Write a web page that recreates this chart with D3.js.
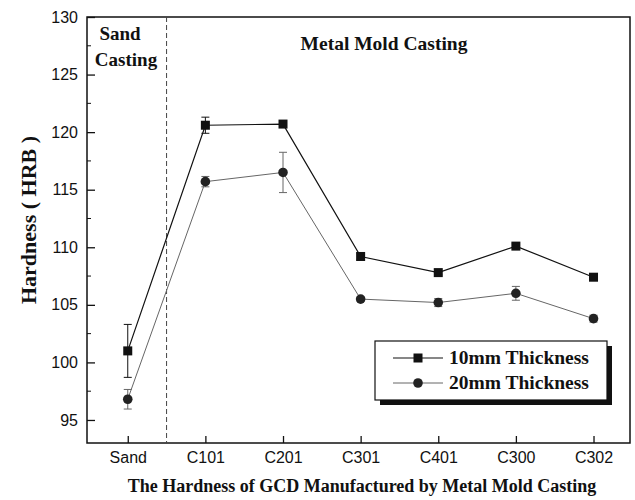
<!DOCTYPE html>
<html>
<head>
<meta charset="utf-8">
<script src="https://cdn.jsdelivr.net/npm/d3@7/dist/d3.min.js"></script>
<style>
  body { margin: 0; background: #fff; }
  .tick text { font-family: "Liberation Sans", Arial, sans-serif; font-size: 16px; fill: #111; }
  .serif { font-family: "Liberation Serif", "Times New Roman", Times, "DejaVu Serif", serif; font-weight: bold; fill: #111; }
</style>
</head>
<body>
<svg id="chart" width="635" height="500"></svg>
<script>
const categories = ['Sand', 'C101', 'C201', 'C301', 'C401', 'C300', 'C302'];
const thick10 = [101.0, 120.6, 120.7, 109.2, 107.8, 110.1, 107.4];
const err10 = [2.3, 0.7, 0.2, 0.3, 0.2, 0.2, 0.2];
const thick20 = [96.8, 115.7, 116.5, 105.5, 105.2, 106.0, 103.8];
const err20 = [0.85, 0.45, 1.75, 0.2, 0.35, 0.6, 0.3];
const yTicks = [95, 100, 105, 110, 115, 120, 125, 130];
const seriesNames = ['10mm Thickness', '20mm Thickness'];

const margin = { top: 17, right: 5, bottom: 57, left: 87 };
const width = 635 - margin.left - margin.right;
const height = 500 - margin.top - margin.bottom;

const svg = d3.select('#chart')
  .append('g')
    .attr('transform', `translate(${margin.left}, ${margin.top})`);

const x = d3.scaleLinear()
    .domain([-0.525, 6.47])
    .range([0, width]);

const y = d3.scaleLinear()
    .domain([93, 130])
    .range([height, 0]);

// frame
svg.append('rect')
  .attr('width', width)
  .attr('height', height)
  .attr('fill', 'none')
  .attr('stroke', '#111')
  .attr('stroke-width', 1.5);

// axes, ticks point inward
svg.append('g')
  .attr('transform', `translate(0, ${height})`)
  .call(d3.axisBottom(x)
    .tickValues(d3.range(categories.length))
    .tickFormat(i => categories[i])
    .tickSizeInner(-7)
    .tickSizeOuter(0)
    .tickPadding(9))
  .call(g => g.select('.domain').remove());

svg.append('g')
  .call(d3.axisLeft(y)
    .tickValues(yTicks)
    .tickSizeInner(-8)
    .tickSizeOuter(0)
    .tickPadding(9))
  .call(g => g.select('.domain').remove());

// minor y ticks
svg.append('g')
  .selectAll('line')
  .data(d3.range(97.5, 130, 5))
  .enter().append('line')
    .attr('x1', 0)
    .attr('x2', 4)
    .attr('y1', d => y(d))
    .attr('y2', d => y(d))
    .attr('stroke', '#111');

svg.selectAll('.tick line').attr('stroke', '#111').attr('stroke-width', 1.3);

// divider between sand and metal mold
svg.append('line')
  .attr('x1', x(0.5))
  .attr('x2', x(0.5))
  .attr('y1', 0)
  .attr('y2', height)
  .attr('stroke', '#444')
  .attr('stroke-dasharray', '5,3');

svg.append('text').attr('class', 'serif')
  .attr('x', 33).attr('y', 23).attr('text-anchor', 'middle')
  .style('font-size', '19px').text('Sand');
svg.append('text').attr('class', 'serif')
  .attr('x', 39).attr('y', 49).attr('text-anchor', 'middle')
  .style('font-size', '19px').text('Casting');
svg.append('text').attr('class', 'serif')
  .attr('x', 297).attr('y', 33).attr('text-anchor', 'middle')
  .style('font-size', '19.5px').text('Metal Mold Casting');

// series
const line = d3.line()
  .x((d, i) => x(i))
  .y(d => y(d));

const series = [
  { values: thick10, errs: err10, color: '#111', width: 1.2, shape: 'square' },
  { values: thick20, errs: err20, color: '#666', width: 1.0, shape: 'circle' },
];

series.forEach((s) => {
  svg.append('path')
    .datum(s.values)
    .attr('fill', 'none')
    .attr('stroke', s.color)
    .attr('stroke-width', s.width)
    .attr('d', line);

  const eb = svg.append('g').attr('stroke', s.color).attr('stroke-width', 1);
  s.values.forEach((v, i) => {
    const cx = x(i);
    const hi = y(v + s.errs[i]);
    const lo = y(v - s.errs[i]);
    eb.append('line').attr('x1', cx).attr('x2', cx).attr('y1', hi).attr('y2', lo);
    eb.append('line').attr('x1', cx - 4).attr('x2', cx + 4).attr('y1', hi).attr('y2', hi);
    eb.append('line').attr('x1', cx - 4).attr('x2', cx + 4).attr('y1', lo).attr('y2', lo);
  });

  if (s.shape === 'square') {
    svg.selectAll('.sq')
      .data(s.values)
      .enter().append('rect')
        .attr('x', (d, i) => x(i) - 4.5)
        .attr('y', d => y(d) - 4.5)
        .attr('width', 9)
        .attr('height', 9)
        .attr('fill', '#111');
  } else {
    svg.selectAll('.ci')
      .data(s.values)
      .enter().append('circle')
        .attr('cx', (d, i) => x(i))
        .attr('cy', d => y(d))
        .attr('r', 4.8)
        .attr('fill', '#222');
  }
});

// legend
const lg = svg.append('g').attr('transform', 'translate(288, 324)');
lg.append('rect')
  .attr('x', 5).attr('y', 5).attr('width', 232).attr('height', 59)
  .attr('fill', '#111');
lg.append('rect')
  .attr('width', 232).attr('height', 59)
  .attr('fill', '#fff').attr('stroke', '#111').attr('stroke-width', 1.2);

seriesNames.forEach((name, i) => {
  const s = series[i];
  const ly = 17 + i * 25;
  lg.append('line')
    .attr('x1', 18).attr('x2', 68).attr('y1', ly).attr('y2', ly)
    .attr('stroke', s.color).attr('stroke-width', s.width);
  if (s.shape === 'square') {
    lg.append('rect').attr('x', 38.5).attr('y', ly - 4.5).attr('width', 9).attr('height', 9).attr('fill', '#111');
  } else {
    lg.append('circle').attr('cx', 43).attr('cy', ly).attr('r', 4.8).attr('fill', '#222');
  }
  lg.append('text').attr('class', 'serif')
    .attr('x', 74).attr('y', ly + 6)
    .style('font-size', '19.5px')
    .text(name);
});

// axis titles
d3.select('#chart').append('text').attr('class', 'serif')
  .attr('transform', 'translate(36, 220) rotate(-90)')
  .attr('text-anchor', 'middle')
  .style('font-size', '22px')
  .text('Hardness ( HRB )');

d3.select('#chart').append('text').attr('class', 'serif')
  .attr('x', 362).attr('y', 492)
  .attr('text-anchor', 'middle')
  .style('font-size', '18px')
  .text('The Hardness of GCD Manufactured by Metal Mold Casting');
</script>
</body>
</html>
